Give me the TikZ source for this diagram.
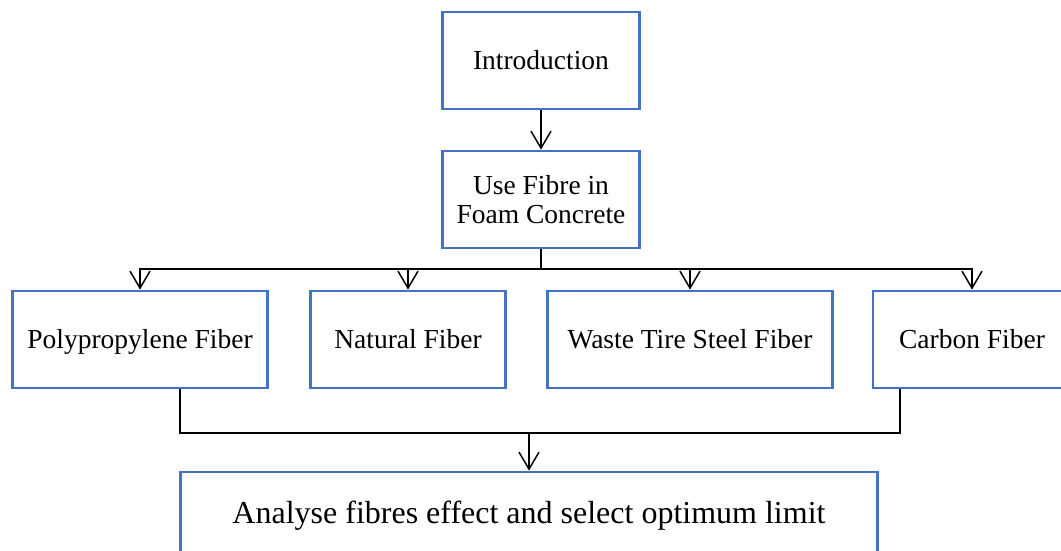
\documentclass[tikz,border=0pt]{standalone}
\usepackage{fontspec}
\setmainfont{Liberation Serif}
\usetikzlibrary{arrows.meta}
\definecolor{boxblue}{HTML}{4472C4}
\tikzset{
  box/.style={draw=boxblue, line width=2.75pt, inner sep=0pt, minimum height=97pt,
    align=center, font=\fontsize{27.5pt}{28.5pt}\selectfont, text=black},
  oneline/.style={box, text height=18.2pt, text depth=0pt},
  conn/.style={draw=black, line width=1.5pt},
  arr/.style={conn, -{Straight Barb[length=17pt,width=20pt,line width=1.5pt]}}
}
\begin{document}
\begin{tikzpicture}[x=1pt,y=-1pt]
\useasboundingbox (0,0) rectangle (1061,551);
\clip (0,0) rectangle (1061,551);
\fill[white] (0,0) rectangle (1061,551);
\node[oneline, minimum width=197pt] (intro) at (541,60.5) {Introduction};
\node[box, minimum width=197pt] (use) at (541,199.5) {Use Fibre in\\Foam Concrete};
\node[oneline, minimum width=255pt] (poly) at (140,339.5) {Polypropylene Fiber};
\node[oneline, minimum width=195pt] (nat) at (408,339.5) {Natural Fiber};
\node[oneline, minimum width=285pt] (waste) at (690,339.5) {Waste Tire Steel Fiber};
\node[oneline, minimum width=198pt] (carbon) at (972,339.5) {Carbon Fiber};
\node[oneline, minimum width=697pt, minimum height=82pt, font=\fontsize{32pt}{36pt}\selectfont, text height=21.2pt] (final) at (529,513) {Analyse fibres effect and select optimum limit};
\coordinate (j) at (541,269);
\coordinate (pl) at (180,433);
\coordinate (pr) at (900,433);
\draw[arr] (intro.south) -- (use.north);
\draw[conn] (use.south) -- (j);
\draw[arr] (j) -| (poly.north);
\draw[arr] (j) -| (nat.north);
\draw[arr] (j) -| (waste.north);
\draw[arr] (j) -| (carbon.north);
\draw[conn] (poly.south -| pl) -- (pl) -- (pr) -- (carbon.south -| pr);
\draw[arr] (final.north |- pl) -- (final.north);
\end{tikzpicture}
\end{document}
